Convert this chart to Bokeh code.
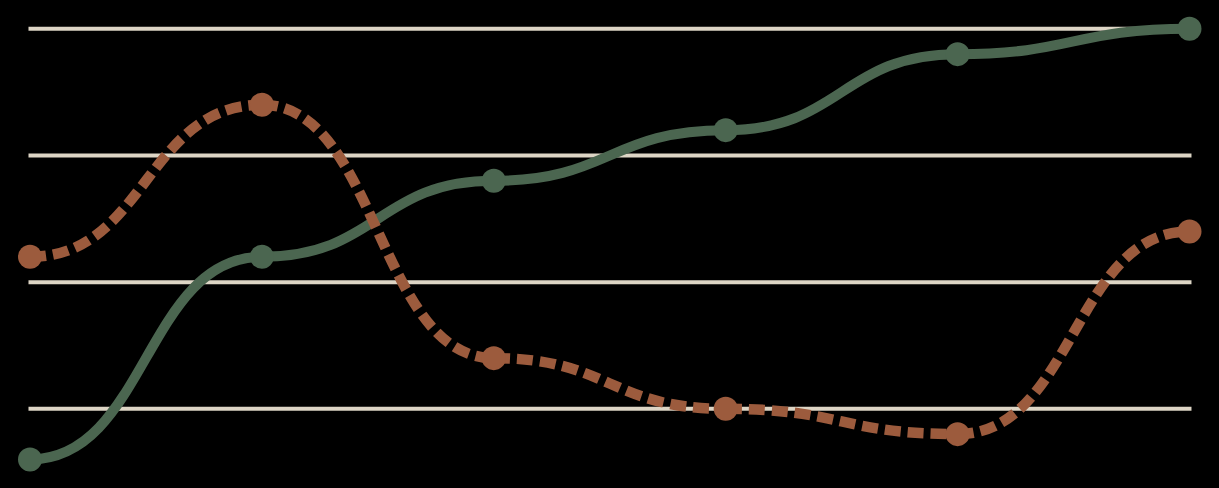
from bokeh.plotting import figure
from bokeh.models import Range1d, ColumnDataSource
from bokeh.embed import file_html
from bokeh.resources import INLINE
import numpy as np

# ---- data ----
points = [0, 1, 2, 3, 4, 5]
green_values = [15, 55, 70, 80, 95, 100]
orange_values = [55, 85, 35, 25, 20, 60]
grid_values = [25, 50, 75, 100]

# ---- styles ----
GREEN = "#4b6650"
ORANGE = "#9c5b3d"
GRID = "#ddd5c5"
BG = "#000000"

p = figure(width=1219, height=488, output_backend="svg", toolbar_location=None,
           x_axis_location=None, y_axis_location=None,
           x_range=Range1d(-0.1272, 5.1294), y_range=Range1d(9.27, 105.585),
           min_border=0)
p.background_fill_color = BG
p.border_fill_color = BG
p.outline_line_color = None
p.grid.visible = False

# horizontal reference lines (slightly wider than the data extent)
gx0 = points[0] - 0.0065
gx1 = points[-1] + 0.0086
p.segment(x0=[gx0] * len(grid_values), x1=[gx1] * len(grid_values),
          y0=grid_values, y1=grid_values, line_color=GRID, line_width=4)


def bump_source(xs, ys):
    xs = np.asarray(xs, dtype=float)
    ys = np.asarray(ys, dtype=float)
    xm = (xs[:-1] + xs[1:]) / 2.0
    return ColumnDataSource(dict(
        x0=xs[:-1], y0=ys[:-1], x1=xs[1:], y1=ys[1:],
        cx0=xm, cy0=ys[:-1], cx1=xm, cy1=ys[1:]))


# green solid series
p.bezier(x0="x0", y0="y0", x1="x1", y1="y1", cx0="cx0", cy0="cy0",
         cx1="cx1", cy1="cy1", source=bump_source(points, green_values),
         line_color=GREEN, line_width=10)
p.scatter(points, green_values, size=24, fill_color=GREEN, line_color=None)

# orange dashed series
p.bezier(x0="x0", y0="y0", x1="x1", y1="y1", cx0="cx0", cy0="cy0",
         cx1="cx1", cy1="cy1", source=bump_source(points, orange_values),
         line_color=ORANGE, line_width=10.5, line_dash="16 7")
p.scatter(points, orange_values, size=24, fill_color=ORANGE, line_color=None)

html = file_html(p, INLINE)
html = html.replace("<head>", "<head><style>html,body{background:#000;}</style>", 1)
open("out.html", "w").write(html)
